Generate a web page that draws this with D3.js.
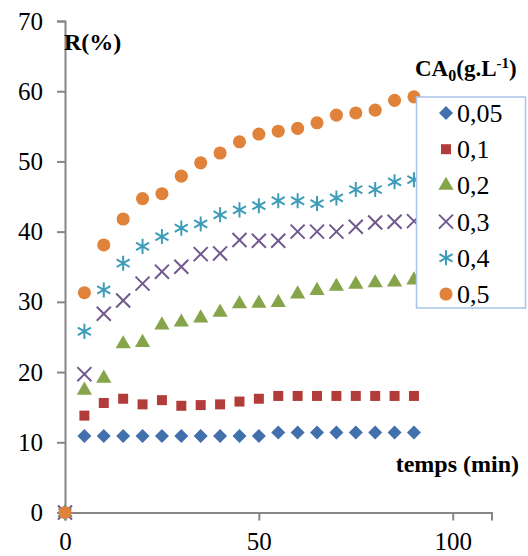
<!DOCTYPE html>
<html>
<head>
<meta charset="utf-8">
<script src="https://cdn.jsdelivr.net/npm/d3@7"></script>
</head>
<body style="margin:0;background:#fff">
<div id="chart"></div>
<script>
// temps (min)
const times = [0, 5, 10, 15, 20, 25, 30, 35, 40, 45, 50, 55, 60, 65, 70, 75, 80, 85, 90]
const seriesLabels = ['0,05', '0,1', '0,2', '0,3', '0,4', '0,5']
// R(%) per initial concentration
const r005 = [0, 10.9, 10.9, 10.9, 10.9, 10.9, 10.9, 10.9, 10.9, 10.9, 10.9, 11.4, 11.4, 11.4, 11.4, 11.4, 11.4, 11.4, 11.4]
const r01 = [0, 13.8, 15.6, 16.2, 15.4, 16.0, 15.2, 15.3, 15.4, 15.8, 16.2, 16.6, 16.6, 16.6, 16.6, 16.6, 16.6, 16.6, 16.6]
const r02 = [0, 17.4, 19.1, 24.0, 24.2, 26.7, 27.1, 27.7, 28.5, 29.7, 29.8, 29.9, 31.1, 31.6, 32.2, 32.5, 32.7, 32.8, 33.1]
const r03 = [0, 19.7, 28.3, 30.2, 32.6, 34.3, 35.0, 36.8, 36.9, 38.8, 38.7, 38.7, 40.0, 40.0, 40.0, 40.7, 41.3, 41.4, 41.5]
const r04 = [0, 25.8, 31.7, 35.5, 37.9, 39.3, 40.5, 41.1, 42.4, 43.1, 43.7, 44.4, 44.4, 44.0, 44.8, 46.0, 46.0, 47.1, 47.4]
const r05 = [0, 31.3, 38.1, 41.8, 44.7, 45.4, 47.9, 49.8, 51.2, 52.8, 53.9, 54.3, 54.7, 55.5, 56.6, 56.9, 57.3, 58.7, 59.2]
const xTicks = [0, 50, 100]
const yTicks = [0, 10, 20, 30, 40, 50, 60, 70]

const seriesValues = [r005, r01, r02, r03, r04, r05]
const colors = ['#4170ad', '#b23c3a', '#86a44a', '#71588f', '#3d9db8', '#e0823a']
const markers = [
  { type: d3.symbolSquare, size: 98, rotate: 45, filled: true },
  { type: d3.symbolSquare, size: 100, rotate: 0, filled: true },
  { type: d3.symbolTriangle, size: 100, rotate: 0, filled: true },
  { type: d3.symbolTimes, size: 130, rotate: 0, filled: false },
  { type: d3.symbolAsterisk, size: 160, rotate: 0, filled: false },
  { type: d3.symbolCircle, size: 135, rotate: 0, filled: true }
]

const width = 528
const height = 556
const axisColor = '#868686'
const serif = 'Liberation Serif'

const svg = d3.select('#chart')
  .append('svg')
  .attr('width', width)
  .attr('height', height)
  .attr('font-family', serif)

const x = d3.scaleLinear().domain([0, 110]).range([65, 491.5])
const y = d3.scaleLinear().domain([0, 70]).range([512.5, 21])

const styleAxis = (g) => {
  g.attr('font-family', serif).attr('font-size', 25)
  g.select('.domain').attr('stroke', axisColor).attr('stroke-width', 2)
  g.selectAll('.tick line').attr('stroke', axisColor).attr('stroke-width', 2)
  g.selectAll('.tick text').attr('fill', '#000')
}

svg.append('g')
  .attr('transform', `translate(${x(0)},0)`)
  .call(d3.axisLeft(y).tickValues(yTicks).tickSizeOuter(0).tickSize(8).tickPadding(14))
  .call(styleAxis)

svg.append('g')
  .attr('transform', `translate(0,${y(0)})`)
  .call(d3.axisBottom(x).tickValues(xTicks).tickSizeOuter(0).tickSize(8).tickPadding(12))
  .call(styleAxis)

const drawMarker = (sel, i) => {
  const m = markers[i]
  sel.append('path')
    .attr('d', d3.symbol().type(m.type).size(m.size)())
    .attr('transform', (d) => `translate(${d.x},${d.y}) rotate(${m.rotate})`)
    .attr('fill', m.filled ? colors[i] : 'none')
    .attr('stroke', m.filled ? 'none' : colors[i])
    .attr('stroke-width', 2)
}

seriesValues.forEach((values, i) => {
  const pts = values.map((v, j) => ({ x: x(times[j]), y: y(v) }))
  const sel = svg.append('g').selectAll('g').data(pts).enter().append('g')
  drawMarker(sel, i)
})

// axis titles
svg.append('text')
  .attr('x', 64)
  .attr('y', 50)
  .attr('font-size', 24)
  .attr('font-weight', 'bold')
  .text('R(%)')

svg.append('text')
  .attr('x', 519)
  .attr('y', 472)
  .attr('text-anchor', 'end')
  .attr('font-size', 24)
  .attr('font-weight', 'bold')
  .text('temps (min)')

const legendTitle = svg.append('text')
  .attr('x', 415)
  .attr('y', 76)
  .attr('font-size', 23)
  .attr('font-weight', 'bold')
legendTitle.append('tspan').text('CA')
legendTitle.append('tspan').attr('font-size', 16).attr('dy', 5).text('0')
legendTitle.append('tspan').attr('dy', -5).text('(g.L')
legendTitle.append('tspan').attr('font-size', 15).attr('dy', -8).text('-1')
legendTitle.append('tspan').attr('dy', 8).text(')')

// legend
const legend = svg.append('g')
legend.append('rect')
  .attr('x', 416.5)
  .attr('y', 97)
  .attr('width', 109)
  .attr('height', 211)
  .attr('fill', '#fff')
  .attr('stroke', '#a9c4eb')
  .attr('stroke-width', 1.5)

seriesLabels.forEach((label, i) => {
  const cy = 113 + i * 36.2
  const item = legend.append('g')
  const sel = item.selectAll('g').data([{ x: 446, y: cy }]).enter().append('g')
  drawMarker(sel, i)
  item.append('text')
    .attr('x', 457)
    .attr('y', cy + 9)
    .attr('font-size', 26)
    .text(label)
})
</script>
</body>
</html>
